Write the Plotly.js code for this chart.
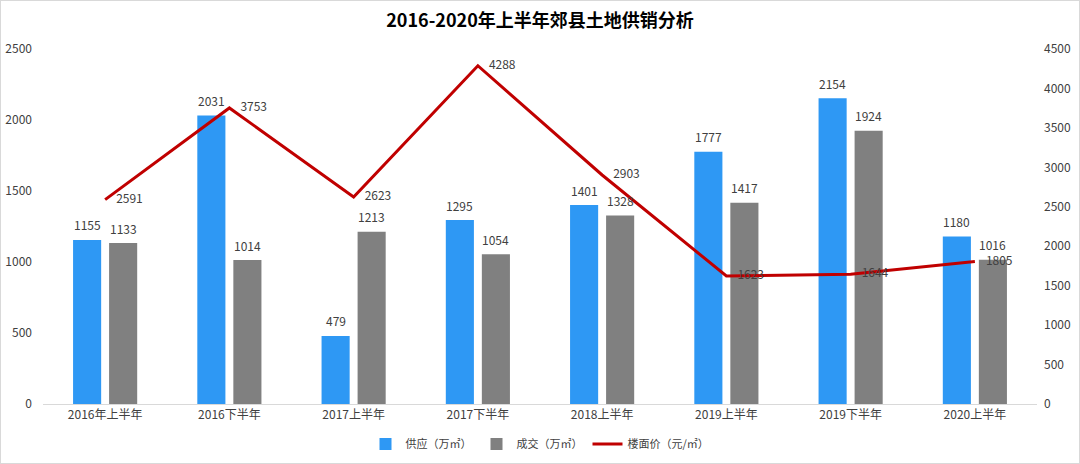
<!DOCTYPE html>
<html><head><meta charset="utf-8">
<script src="https://cdn.plot.ly/plotly-3.0.1.min.js"></script>
<style>
html,body{margin:0;padding:0;background:#fff;}
#wrap{width:1078px;height:462px;border:1px solid #D9D9D9;}
#chart{width:1078px;height:462px;}
</style>
</head><body>
<div id="wrap"><div id="chart"></div></div>
<script>
const categories = ["2016年上半年","2016下半年","2017上半年","2017下半年","2018上半年","2019上半年","2019下半年","2020上半年"];
const supply = [1155, 2031, 479, 1295, 1401, 1777, 2154, 1180];
const deal = [1133, 1014, 1213, 1054, 1328, 1417, 1924, 1016];
const price = [2591, 3753, 2623, 4288, 2903, 1623, 1644, 1805];
const seriesNames = ["供应（万㎡）", "成交（万㎡）", "楼面价（元/㎡）"];

const font = "Noto Sans CJK SC, Noto Sans, sans-serif";
const txtColor = "#404040";

const traces = [
  {type:"bar", name:seriesNames[0], x:categories, y:supply, marker:{color:"#2E98F4"}},
  {type:"bar", name:seriesNames[1], x:categories, y:deal, marker:{color:"#808080"}},
  {type:"scatter", mode:"lines+markers+text", name:seriesNames[2], x:categories, y:price, yaxis:"y2",
   line:{color:"#C00000", width:3}, marker:{size:16, color:"rgba(0,0,0,0)"},
   text:price.map(String), textposition:"middle right",
   cliponaxis:false, textfont:{size:12,color:txtColor,family:font}}
];

const annotations = [];
categories.forEach((c,i)=>{
  annotations.push({x:c, y:supply[i], xref:"x", yref:"y", text:String(supply[i]), showarrow:false,
    xshift:-18, yshift:15, font:{size:12,color:txtColor,family:font}});
  annotations.push({x:c, y:deal[i], xref:"x", yref:"y", text:String(deal[i]), showarrow:false,
    xshift:18, yshift:15, font:{size:12,color:txtColor,family:font}});
});

const layout = {
  width:1078, height:462,
  margin:{l:42, r:42, t:48, b:59},
  paper_bgcolor:"#fff", plot_bgcolor:"#fff",
  font:{family:font, size:12, color:txtColor},
  title:{text:"<b>2016-2020年上半年郊县土地供销分析</b>", x:0.5, xanchor:"center", y:0.957, yanchor:"middle",
         font:{size:18, color:"#000", family:font}},
  barmode:"group", bargap:0.42, bargroupgap:0.22,
  showlegend:true,
  legend:{orientation:"h", x:0.5, xanchor:"center", xref:"container", yref:"container", y:0.041, yanchor:"middle",
          font:{size:11, color:txtColor, family:font}},
  annotations: annotations,
  xaxis:{type:"category", showline:true, linecolor:"#D9D9D9", linewidth:1, ticks:"",
         showgrid:false, tickfont:{size:12, color:txtColor}},
  yaxis:{range:[0,2500], dtick:500, showgrid:false, zeroline:false, showline:false,
         ticks:"", tickfont:{size:12, color:txtColor}, ticklabelstandoff:10},
  yaxis2:{range:[0,4500], dtick:500, overlaying:"y", side:"right", showgrid:false,
          zeroline:false, showline:false, ticks:"", tickfont:{size:12, color:txtColor}, ticklabelstandoff:6}
};

Plotly.newPlot("chart", traces, layout, {displayModeBar:false, responsive:false});
</script>
</body></html>
